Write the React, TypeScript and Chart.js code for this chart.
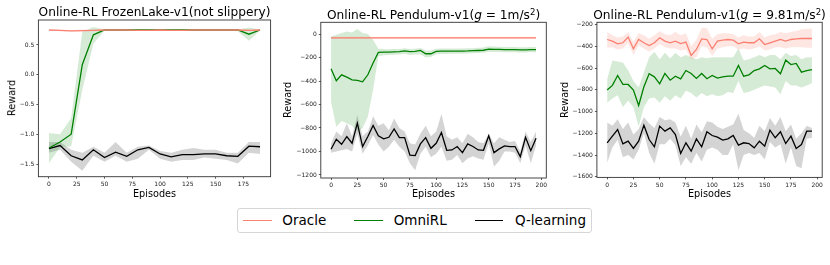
import React, { useEffect, useRef } from 'react';
import { Chart, registerables } from 'chart.js';

Chart.register(...registerables);

const FONT = "'DejaVu Sans', sans-serif";
const ORACLE_COLOR = '#fa8072';
const OMNI_COLOR = '#008000';
const QL_COLOR = '#000000';
const ORACLE_FILL = 'rgba(250,128,114,0.2)';
const OMNI_FILL = 'rgba(0,128,0,0.16)';
const QL_FILL = 'rgba(0,0,0,0.17)';

// ---------- Panel 1: FrozenLake ----------
const frozenX = [0, 10, 20, 30, 40, 50, 60, 70, 80, 90, 100, 110, 120, 130, 140, 150, 160, 170, 180, 190];
const frozenOracle = [0.75, 0.745, 0.735, 0.74, 0.745, 0.75, 0.75, 0.75, 0.745, 0.745, 0.75, 0.745, 0.745, 0.75, 0.75, 0.75, 0.75, 0.75, 0.745, 0.75];
const frozenOracleLo = [0.74, 0.73, 0.72, 0.725, 0.735, 0.74, 0.74, 0.74, 0.735, 0.735, 0.74, 0.735, 0.735, 0.74, 0.74, 0.74, 0.74, 0.74, 0.73, 0.74];
const frozenOracleHi = [0.76, 0.755, 0.75, 0.755, 0.755, 0.76, 0.76, 0.76, 0.755, 0.755, 0.76, 0.755, 0.755, 0.76, 0.76, 0.76, 0.76, 0.76, 0.76, 0.76];
const frozenOmni = [-1.22, -1.12, -0.99, 0.17, 0.67, 0.75, 0.75, 0.75, 0.75, 0.75, 0.75, 0.75, 0.75, 0.75, 0.75, 0.75, 0.75, 0.75, 0.68, 0.75];
const frozenOmniLo = [-1.47, -1.21, -1.19, -0.25, 0.52, 0.74, 0.74, 0.74, 0.74, 0.74, 0.74, 0.74, 0.74, 0.74, 0.74, 0.74, 0.74, 0.73, 0.57, 0.74];
const frozenOmniHi = [-0.97, -0.99, -0.72, 0.72, 0.8, 0.76, 0.76, 0.76, 0.76, 0.76, 0.76, 0.76, 0.76, 0.76, 0.76, 0.76, 0.76, 0.76, 0.79, 0.76];
const frozenQL = [-1.23, -1.18, -1.35, -1.42, -1.25, -1.38, -1.29, -1.36, -1.25, -1.21, -1.32, -1.37, -1.33, -1.33, -1.32, -1.32, -1.35, -1.36, -1.19, -1.2];
const frozenQLLo = [-1.3, -1.25, -1.45, -1.6, -1.35, -1.45, -1.35, -1.45, -1.4, -1.25, -1.4, -1.45, -1.42, -1.42, -1.38, -1.4, -1.42, -1.48, -1.3, -1.32];
const frozenQLHi = [-1.12, -1.12, -1.25, -1.3, -1.2, -1.3, -1.12, -1.3, -1.2, -1.18, -1.27, -1.3, -1.25, -1.22, -1.25, -1.25, -1.3, -1.3, -1.12, -1.12];
const frozenXTicks = [0, 25, 50, 75, 100, 125, 150, 175];
const frozenYTicks = [-1.5, -1.0, -0.5, 0.0, 0.5];

// ---------- Panel 2: Pendulum g = 1 ----------
const pendX = [0, 5, 10, 15, 20, 25, 30, 35, 40, 45, 50, 55, 60, 65, 70, 75, 80, 85, 90, 95, 100, 105, 110, 115, 120, 125, 130, 135, 140, 145, 150, 155, 160, 165, 170, 175, 180, 185, 190, 195];
const g1Oracle = [-33, -33, -32, -32, -33, -32, -32, -33, -32, -32, -33, -32, -32, -33, -32, -32, -33, -32, -32, -33, -32, -32, -33, -32, -32, -33, -32, -32, -33, -32, -32, -33, -32, -32, -33, -32, -32, -33, -32, -33];
const g1OracleLo = [-42, -42, -41, -41, -42, -41, -41, -42, -41, -41, -42, -41, -41, -42, -41, -41, -42, -41, -41, -42, -41, -41, -42, -41, -41, -42, -41, -41, -42, -41, -41, -42, -41, -41, -42, -41, -41, -42, -41, -42];
const g1OracleHi = [-24, -24, -23, -23, -24, -23, -23, -24, -23, -23, -24, -23, -23, -24, -23, -23, -24, -23, -23, -24, -23, -23, -24, -23, -23, -24, -23, -23, -24, -23, -23, -24, -23, -23, -24, -23, -23, -24, -23, -24];
const g1Omni = [-296, -398, -347, -367, -390, -395, -407, -347, -247, -156, -154, -154, -152, -150, -143, -150, -148, -139, -168, -168, -148, -146, -146, -145, -145, -145, -144, -142, -140, -138, -128, -130, -131, -132, -133, -133, -134, -134, -133, -133];
const g1OmniLo = [-580, -790, -740, -760, -780, -830, -800, -705, -475, -190, -180, -178, -176, -175, -168, -178, -175, -175, -200, -195, -172, -170, -170, -168, -168, -168, -166, -164, -162, -160, -150, -152, -154, -155, -156, -156, -157, -157, -156, -156];
const g1OmniHi = [-20, -5, 8, 22, 14, 42, 8, 0, -49, -125, -128, -130, -128, -127, -120, -128, -125, -118, -140, -140, -125, -124, -124, -123, -123, -123, -122, -120, -117, -115, -105, -107, -108, -110, -110, -110, -112, -112, -110, -110];
const g1QL = [-981, -896, -939, -873, -930, -759, -958, -873, -779, -867, -893, -879, -808, -882, -882, -1032, -1035, -936, -882, -973, -930, -839, -990, -987, -958, -1010, -936, -958, -987, -990, -867, -1010, -978, -953, -958, -958, -1044, -879, -993, -887];
const g1QLLo = [-1010, -1000, -990, -980, -1000, -850, -1020, -950, -860, -940, -1000, -960, -900, -960, -1000, -1100, -1160, -1020, -960, -1050, -1020, -960, -1080, -1070, -1030, -1100, -1060, -1040, -1060, -1070, -930, -1130, -1080, -1000, -1000, -1010, -1100, -950, -1100, -950];
const g1QLHi = [-930, -830, -870, -760, -870, -690, -870, -830, -700, -780, -760, -820, -720, -800, -830, -930, -940, -850, -780, -870, -830, -680, -870, -900, -880, -930, -850, -880, -920, -930, -850, -930, -880, -900, -920, -910, -1000, -830, -920, -830];
const pendXTicks = [0, 25, 50, 75, 100, 125, 150, 175, 200];
const g1YTicks = [-1200, -1000, -800, -600, -400, -200, 0];

// ---------- Panel 3: Pendulum g = 9.81 ----------
const g981Oracle = [-338, -353, -378, -368, -316, -424, -338, -368, -393, -368, -322, -353, -368, -353, -375, -362, -485, -430, -332, -338, -424, -353, -344, -338, -344, -378, -362, -368, -368, -332, -384, -368, -353, -338, -353, -338, -332, -329, -329, -329];
const g981OracleLo = [-414, -410, -430, -420, -370, -480, -390, -420, -450, -420, -380, -410, -420, -420, -440, -430, -520, -500, -400, -410, -490, -420, -410, -400, -400, -430, -420, -430, -420, -400, -440, -430, -410, -410, -420, -410, -410, -410, -414, -414];
const g981OracleHi = [-270, -300, -320, -310, -270, -360, -280, -300, -330, -300, -260, -290, -300, -270, -300, -280, -400, -340, -230, -235, -330, -290, -280, -280, -290, -320, -300, -310, -310, -270, -320, -300, -290, -270, -280, -270, -260, -245, -240, -240];
const g981Omni = [-803, -760, -669, -751, -751, -803, -944, -772, -653, -681, -745, -650, -712, -675, -699, -623, -650, -696, -650, -699, -669, -693, -681, -675, -675, -577, -675, -663, -623, -608, -577, -608, -604, -653, -528, -568, -558, -638, -623, -614];
const g981OmniLo = [-920, -880, -850, -960, -900, -960, -1140, -960, -880, -870, -920, -860, -900, -850, -880, -810, -830, -870, -830, -860, -840, -860, -850, -820, -830, -720, -830, -820, -800, -780, -760, -770, -780, -840, -720, -760, -760, -780, -760, -740];
const g981OmniHi = [-700, -530, -540, -550, -620, -720, -780, -640, -500, -450, -520, -460, -510, -460, -500, -480, -500, -520, -500, -510, -500, -500, -500, -500, -500, -420, -530, -520, -500, -480, -500, -480, -480, -520, -460, -490, -480, -520, -500, -500];
const g981QL = [-1287, -1226, -1165, -1297, -1272, -1339, -1272, -1125, -1257, -1324, -1134, -1180, -1150, -1211, -1385, -1287, -1364, -1251, -1324, -1186, -1220, -1235, -1263, -1251, -1220, -1309, -1287, -1294, -1333, -1272, -1318, -1171, -1241, -1186, -1294, -1226, -1339, -1303, -1180, -1180];
const g981QLLo = [-1470, -1330, -1260, -1420, -1400, -1440, -1350, -1200, -1380, -1480, -1300, -1300, -1250, -1310, -1500, -1420, -1480, -1380, -1460, -1350, -1330, -1350, -1400, -1400, -1300, -1540, -1400, -1380, -1400, -1380, -1440, -1280, -1330, -1300, -1480, -1330, -1500, -1520, -1250, -1240];
const g981QLHi = [-1100, -1130, -1070, -1160, -1100, -1210, -1160, -1050, -1110, -1150, -1050, -1080, -1070, -1100, -1230, -1130, -1250, -1120, -1190, -1090, -1100, -1140, -1160, -1140, -1120, -1020, -1170, -1200, -1240, -1130, -1180, -1060, -1130, -1050, -1180, -1120, -1250, -1200, -1130, -1150];
const g981YTicks = [-1600, -1400, -1200, -1000, -800, -600, -400, -200];

const legendLabels = ['Oracle', 'OmniRL', 'Q-learning'];

// ---------- layout (pixels) ----------
const YW = 40;
const XH = 14;

type Series = { mean: number[]; lo: number[]; hi: number[]; color: string; fill: string };
type Panel = {
  box: { left: number; right: number; top: number; bottom: number };
  xRange: [number, number];
  yRange: [number, number];
  xs: number[];
  xTicks: number[];
  yTicks: number[];
  yFmt: (v: number) => string;
  series: Series[];
};

const fmtInt = (v: number) => (v < 0 ? '\u2212' + Math.abs(v).toFixed(0) : v.toFixed(0));
const fmt1 = (v: number) => (Math.abs(v) < 1e-9 ? '0.0' : v < 0 ? '\u2212' + Math.abs(v).toFixed(1) : v.toFixed(1));

const panels: Panel[] = [
  {
    box: { left: 38.4, right: 270.6, top: 20, bottom: 176.7 },
    xRange: [-9.5, 199.5],
    yRange: [-1.7, 0.917],
    xs: frozenX,
    xTicks: frozenXTicks,
    yTicks: frozenYTicks,
    yFmt: fmt1,
    series: [
      { mean: frozenOracle, lo: frozenOracleLo, hi: frozenOracleHi, color: ORACLE_COLOR, fill: ORACLE_FILL },
      { mean: frozenOmni, lo: frozenOmniLo, hi: frozenOmniHi, color: OMNI_COLOR, fill: OMNI_FILL },
      { mean: frozenQL, lo: frozenQLLo, hi: frozenQLHi, color: QL_COLOR, fill: QL_FILL },
    ],
  },
  {
    box: { left: 320.8, right: 546.3, top: 22.3, bottom: 178 },
    xRange: [-9.75, 204.75],
    yRange: [-1226, 100],
    xs: pendX,
    xTicks: pendXTicks,
    yTicks: g1YTicks,
    yFmt: fmtInt,
    series: [
      { mean: g1Oracle, lo: g1OracleLo, hi: g1OracleHi, color: ORACLE_COLOR, fill: ORACLE_FILL },
      { mean: g1Omni, lo: g1OmniLo, hi: g1OmniHi, color: OMNI_COLOR, fill: OMNI_FILL },
      { mean: g1QL, lo: g1QLLo, hi: g1QLHi, color: QL_COLOR, fill: QL_FILL },
    ],
  },
  {
    box: { left: 596.9, right: 822.2, top: 22.3, bottom: 177.4 },
    xRange: [-9.75, 204.75],
    yRange: [-1605, -180],
    xs: pendX,
    xTicks: pendXTicks,
    yTicks: g981YTicks,
    yFmt: fmtInt,
    series: [
      { mean: g981Oracle, lo: g981OracleLo, hi: g981OracleHi, color: ORACLE_COLOR, fill: ORACLE_FILL },
      { mean: g981Omni, lo: g981OmniLo, hi: g981OmniHi, color: OMNI_COLOR, fill: OMNI_FILL },
      { mean: g981QL, lo: g981QLLo, hi: g981QLHi, color: QL_COLOR, fill: QL_FILL },
    ],
  },
];

const boxPlugin = {
  id: 'axesBox',
  afterDatasetsDraw(chart: any) {
    const { ctx, chartArea: a } = chart;
    ctx.save();
    ctx.strokeStyle = '#333';
    ctx.lineWidth = 0.9;
    ctx.strokeRect(a.left, a.top, a.right - a.left, a.bottom - a.top);
    ctx.restore();
  },
};

function canvasGeom(p: Panel) {
  const b = p.box;
  const CL = Math.floor(b.left) - YW;
  const CT = Math.floor(b.top) - 6;
  const CR = Math.ceil(b.right) + 10;
  const CB = Math.ceil(b.bottom) + XH + 2;
  return {
    CL,
    CT,
    W: CR - CL,
    H: CB - CT,
    pad: { left: b.left - CL - YW, top: b.top - CT, right: CR - b.right, bottom: CB - b.bottom - XH },
  };
}

function buildDatasets(p: Panel) {
  const out: any[] = [];
  p.series.forEach((s) => {
    out.push({
      data: p.xs.map((x, i) => ({ x, y: s.hi[i] })),
      borderColor: 'rgba(0,0,0,0)',
      borderWidth: 0,
      pointRadius: 0,
      fill: false,
      order: 10,
    });
    out.push({
      data: p.xs.map((x, i) => ({ x, y: s.lo[i] })),
      borderColor: 'rgba(0,0,0,0)',
      borderWidth: 0,
      pointRadius: 0,
      backgroundColor: s.fill,
      fill: '-1',
      order: 10,
    });
  });
  p.series.forEach((s) => {
    out.push({
      data: p.xs.map((x, i) => ({ x, y: s.mean[i] })),
      borderColor: s.color,
      borderWidth: 1.3,
      pointRadius: 0,
      fill: false,
      tension: 0,
      order: 1,
    });
  });
  return out;
}

function PanelChart({ p }: { p: Panel }) {
  const ref = useRef<HTMLCanvasElement>(null);
  const g = canvasGeom(p);
  useEffect(() => {
    if (!ref.current) return;
    const tickFont = { family: FONT, size: 6 };
    const chart = new Chart(ref.current, {
      type: 'line',
      data: { datasets: buildDatasets(p) },
      plugins: [boxPlugin],
      options: {
        animation: false,
        responsive: false,
        devicePixelRatio: 1,
        layout: { padding: g.pad },
        plugins: { legend: { display: false }, title: { display: false }, tooltip: { enabled: false } },
        scales: {
          x: {
            type: 'linear',
            min: p.xRange[0],
            max: p.xRange[1],
            afterBuildTicks: (s: any) => {
              s.ticks = p.xTicks.map((v) => ({ value: v }));
            },
            afterFit: (s: any) => {
              s.height = XH;
              s.paddingLeft = 0;
              s.paddingRight = 0;
            },
            grid: { drawOnChartArea: false, drawTicks: true, tickLength: 2, tickColor: '#333', tickWidth: 0.8 },
            border: { display: false },
            ticks: {
              font: tickFont,
              color: '#222',
              padding: 2,
              maxRotation: 0,
              autoSkip: false,
              callback: (v: any) => fmtInt(Number(v)),
            },
          },
          y: {
            type: 'linear',
            min: p.yRange[0],
            max: p.yRange[1],
            afterBuildTicks: (s: any) => {
              s.ticks = p.yTicks.map((v) => ({ value: v }));
            },
            afterFit: (s: any) => {
              s.width = YW;
              s.paddingTop = 0;
              s.paddingBottom = 0;
            },
            grid: { drawOnChartArea: false, drawTicks: true, tickLength: 2, tickColor: '#333', tickWidth: 0.8 },
            border: { display: false },
            ticks: {
              font: tickFont,
              color: '#222',
              padding: 2,
              autoSkip: false,
              callback: (v: any) => p.yFmt(Number(v)),
            },
          },
        },
      } as any,
    });
    return () => chart.destroy();
  }, []);
  return (
    <canvas
      ref={ref}
      width={g.W}
      height={g.H}
      style={{ position: 'absolute', left: g.CL, top: g.CT, width: g.W, height: g.H }}
    />
  );
}

const textBase: React.CSSProperties = {
  position: 'absolute',
  fontFamily: FONT,
  color: '#000',
  whiteSpace: 'nowrap',
};

function Title({ cx, top, children }: { cx: number; top: number; children: React.ReactNode }) {
  return (
    <div style={{ ...textBase, left: cx, top, fontSize: 12.2, lineHeight: '12.2px', transform: 'translateX(-50%)' }}>
      {children}
    </div>
  );
}

function Sup({ children }: { children: React.ReactNode }) {
  return (
    <span style={{ fontSize: '0.7em', position: 'relative', top: '-0.45em', lineHeight: 0 }}>{children}</span>
  );
}

export default function App() {
  const legendItems = [
    { label: legendLabels[0], color: ORACLE_COLOR, x0: 242.7, x1: 271.7, tx: 282.3 },
    { label: legendLabels[1], color: OMNI_COLOR, x0: 354.3, x1: 382.7, tx: 393.7 },
    { label: legendLabels[2], color: QL_COLOR, x0: 475, x1: 503.3, tx: 515 },
  ];
  return (
    <div style={{ position: 'absolute', left: 0, top: 0, width: 830, height: 265, background: '#fff', overflow: 'hidden' }}>
      {panels.map((p, i) => (
        <PanelChart key={i} p={p} />
      ))}
      <Title cx={(panels[0].box.left + panels[0].box.right) / 2} top={5.7}>
        Online-RL FrozenLake-v1(not slippery)
      </Title>
      <Title cx={(panels[1].box.left + panels[1].box.right) / 2} top={9.2}>
        Online-RL Pendulum-v1(<i>g</i> = 1m/s<Sup>2</Sup>)
      </Title>
      <Title cx={(panels[2].box.left + panels[2].box.right) / 2} top={9.2}>
        Online-RL Pendulum-v1(<i>g</i> = 9.81m/s<Sup>2</Sup>)
      </Title>
      {panels.map((p, i) => (
        <div
          key={'xl' + i}
          style={{ ...textBase, left: (p.box.left + p.box.right) / 2, top: 189.3, fontSize: 9.7, lineHeight: '9.7px', transform: 'translateX(-50%)' }}
        >
          Episodes
        </div>
      ))}
      {panels.map((p, i) => (
        <div
          key={'yl' + i}
          style={{
            ...textBase,
            left: [11.7, 288.3, 565][i],
            top: (p.box.top + p.box.bottom) / 2,
            fontSize: 9.7,
            lineHeight: '9.7px',
            transform: 'translate(-50%, -50%) rotate(-90deg)',
          }}
        >
          Reward
        </div>
      ))}
      <div
        style={{
          position: 'absolute',
          left: 237.3,
          top: 208.3,
          width: 355,
          height: 24.4,
          boxSizing: 'border-box',
          border: '1px solid #d6d6d6',
          borderRadius: 3,
        }}
      />
      {legendItems.map((it) => (
        <React.Fragment key={it.label}>
          <div style={{ position: 'absolute', left: it.x0, top: 219.5, width: it.x1 - it.x0, height: 1.5, background: it.color }} />
          <div style={{ ...textBase, left: it.tx, top: 214, fontSize: 13.5, lineHeight: '13.5px' }}>{it.label}</div>
        </React.Fragment>
      ))}
    </div>
  );
}
